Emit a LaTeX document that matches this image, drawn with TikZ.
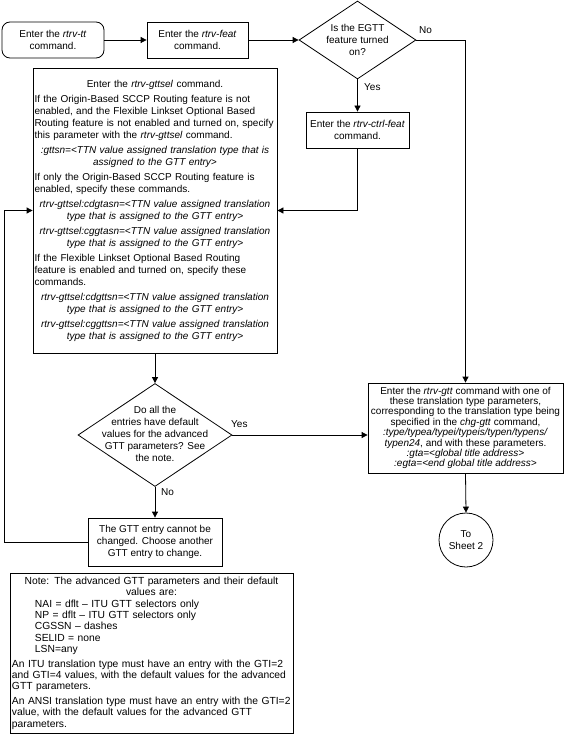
\documentclass[tikz,border=0pt]{standalone}
\usepackage{fontspec}
\setmainfont{Liberation Sans}
\usetikzlibrary{shapes.geometric,arrows.meta}
\newcommand\ctrpar[1]{{\centering #1\par}}
\begin{document}
\begin{tikzpicture}[x=1pt,y=-1pt,
  every node/.style={font=\fontsize{10}{12}\selectfont},
  box/.style={draw, line width=0.8pt, inner sep=0pt, align=center},
  dia/.style={draw, diamond, line width=0.8pt, inner sep=0pt},
  conn/.style={line width=0.8pt, -{Triangle[length=6pt,width=6pt]}},
  lab/.style={inner sep=0pt}]
\useasboundingbox (0,0) rectangle (565,749);

\node[box, rounded corners=8pt, minimum width=102pt, minimum height=36pt] (start) at (53,40) {Enter the \textit{rtrv-tt}\\command.};
\node[box, minimum width=101pt, minimum height=36pt] (feat) at (197.5,40) {Enter the \textit{rtrv-feat}\\command.};
\node[dia, minimum width=117pt, minimum height=78pt] (d1) at (357.5,40) {};
\node[align=center, inner sep=0pt] (d1t) at (357.5,40) {Is the EGTT\\feature turned\\on?};
\node[box, minimum width=103pt, minimum height=36pt] (ctrl) at (357.5,130) {Enter the \textit{rtrv-ctrl-feat}\\command.};

\node[box, minimum width=244pt, minimum height=285pt, text width=241pt, align=left] (gttsel) at (155,210.5) {\setlength{\parskip}{3pt}\setlength{\parindent}{0pt}%
\ctrpar{Enter the \textit{rtrv-gttsel} command.}%
If the Origin-Based SCCP Routing feature is not\\enabled, and the Flexible Linkset Optional Based\\Routing feature is not enabled and turned on, specify\\this parameter with the \textit{rtrv-gttsel} command.\par
\ctrpar{\textit{:gttsn=<TTN value assigned translation type that is}\\\textit{assigned to the GTT entry>}}%
If only the Origin-Based SCCP Routing feature is\\enabled, specify these commands.\par
\ctrpar{\textit{rtrv-gttsel:cdgtasn=<TTN value assigned translation}\\\textit{type that is assigned to the GTT entry>}}%
\ctrpar{\textit{rtrv-gttsel:cggtasn=<TTN value assigned translation}\\\textit{type that is assigned to the GTT entry>}}%
If the Flexible Linkset Optional Based Routing\\feature is enabled and turned on, specify these\\commands.\par
\ctrpar{\textit{rtrv-gttsel:cdgttsn=<TTN value assigned translation}\\\textit{type that is assigned to the GTT entry>}}%
\ctrpar{\textit{rtrv-gttsel:cggttsn=<TTN value assigned translation}\\\textit{type that is assigned to the GTT entry>}}};

\node[dia, minimum width=154pt, minimum height=103pt] (d2) at (155,435) {};
\node[align=center, inner sep=0pt] (d2t) at (155,434) {Do all the\\entries have default\\values for the advanced\\GTT parameters? See\\the note.};
\node[box, minimum width=134pt, minimum height=48pt] (cannot) at (155,542) {The GTT entry cannot be\\changed. Choose another\\GTT entry to change.};

\node[box, minimum width=195pt, minimum height=90pt, font=\fontsize{10}{10.4}\selectfont] (gtt) at (465.5,428) {Enter the \textit{rtrv-gtt} command with one of\\these translation type parameters,\\corresponding to the translation type being\\specified in the \textit{chg-gtt} command,\\\textit{:type/typea/typei/typeis/typen/typens/}\\\textit{typen24}, and with these parameters.\\\textit{:gta=<global title address>}\\\textit{:egta=<end global title address>}};
\node[draw, circle, line width=0.8pt, minimum size=54pt, inner sep=0pt, align=center] (s2) at (466,540) {To\\Sheet 2};

\node[box, minimum width=283pt, minimum height=160pt, text width=279pt, align=left, font=\fontsize{10.3}{11.4}\selectfont] (note) at (151.5,653) {\setlength{\parskip}{0pt}\setlength{\parindent}{0pt}%
\ctrpar{Note: The advanced GTT parameters and their default\\values are:}%
\hspace*{23pt}NAI = dflt – ITU GTT selectors only\\
\hspace*{23pt}NP = dflt – ITU GTT selectors only\\
\hspace*{23pt}CGSSN – dashes\\
\hspace*{23pt}SELID = none\\
\hspace*{23pt}LSN=any\par\vspace{3pt}%
An ITU translation type must have an entry with the GTI=2\\and GTI=4 values, with the default values for the advanced\\GTT parameters.\par\vspace{3pt}%
An ANSI translation type must have an entry with the GTI=2\\value, with the default values for the advanced GTT\\parameters.};

\draw[conn] (start.east) -- (feat.west);
\draw[conn] (feat.east) -- (d1.west);
\draw[conn] (d1.east) -| (gtt.north);
\draw[conn] (d1.south) -- (ctrl.north);
\draw[conn] (ctrl.south) |- (gttsel.east);
\draw[conn] (gttsel.south) -- (d2.north);
\draw[conn] (d2.east) -- (d2.east -| gtt.west);
\draw[conn] (d2.south) -- (cannot.north);
\draw[conn] (cannot.west) -- ++(-83,0) |- (gttsel.west);
\draw[conn] (gtt.south) -- (s2.north);

\node[lab, anchor=west] (no1) at (419,30) {No};
\node[lab, anchor=west] (yes1) at (364,87) {Yes};
\node[lab, anchor=west] (yes2) at (231,424) {Yes};
\node[lab, anchor=west] (no2) at (161,492) {No};
\end{tikzpicture}
\end{document}
